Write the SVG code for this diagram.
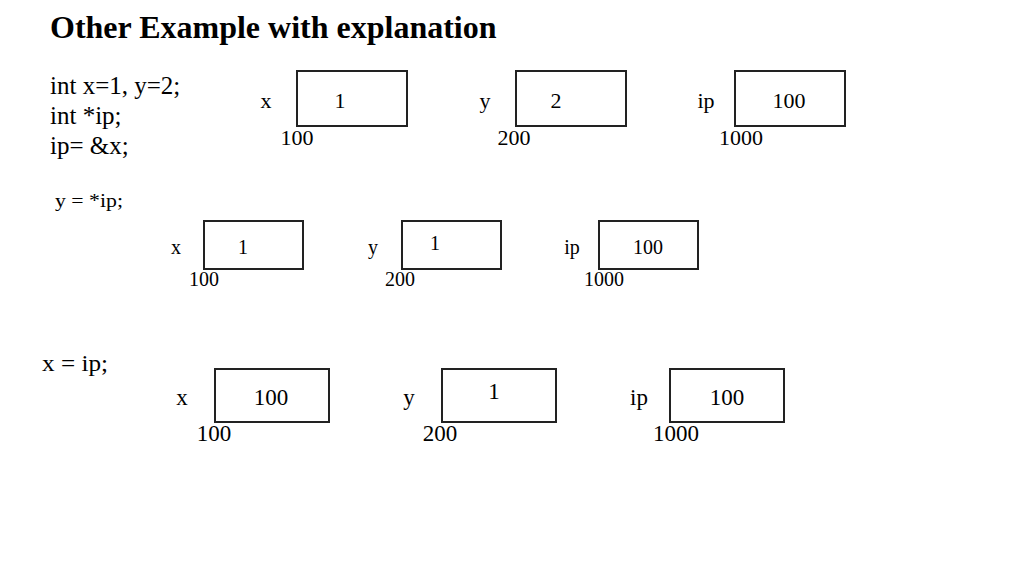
<svg xmlns="http://www.w3.org/2000/svg" width="1024" height="576" viewBox="0 0 1024 576">
<style>
.t{font-family:"Liberation Serif","Times New Roman",serif;fill:#000}
.title{font-size:32px;font-weight:bold}
.code{font-size:25px}
.lbl{text-anchor:middle}
.r1{font-size:22px}
.r2{font-size:20px}
.r3{font-size:23px}
.box{fill:#fff;stroke:#222;stroke-width:2}
</style>
<rect width="1024" height="576" fill="#fff"/>
<text class="t title" x="50" y="38">Other Example with explanation</text>
<g id="code">
<text class="t code" x="50" y="94">int x=1, y=2;</text>
<text class="t code" x="50" y="124">int *ip;</text>
<text class="t code" x="50" y="154">ip= &amp;x;</text>
<text class="t" x="55" y="207" style="font-size:19px" textLength="68" lengthAdjust="spacingAndGlyphs">y = *ip;</text>
<text class="t" x="42" y="371" style="font-size:23px" textLength="66" lengthAdjust="spacingAndGlyphs">x = ip;</text>
</g>
<g id="row1">
<g id="r1x"><rect class="box" x="297" y="71" width="110" height="55"/><text class="t lbl r1" x="266" y="108">x</text><text class="t lbl r1" x="340" y="108">1</text><text class="t lbl r1" x="297" y="145">100</text></g>
<g id="r1y"><rect class="box" x="516" y="71" width="110" height="55"/><text class="t lbl r1" x="485" y="108">y</text><text class="t lbl r1" x="556" y="108">2</text><text class="t lbl r1" x="514" y="145">200</text></g>
<g id="r1ip"><rect class="box" x="735" y="71" width="110" height="55"/><text class="t lbl r1" x="706" y="108">ip</text><text class="t lbl r1" x="789" y="108">100</text><text class="t lbl r1" x="741" y="145">1000</text></g>
</g>
<g id="row2">
<g id="r2x"><rect class="box" x="204" y="221" width="99" height="48"/><text class="t lbl r2" x="176" y="254">x</text><text class="t lbl r2" x="243" y="254">1</text><text class="t lbl r2" x="204" y="286">100</text></g>
<g id="r2y"><rect class="box" x="402" y="221" width="99" height="48"/><text class="t lbl r2" x="373" y="254">y</text><text class="t lbl r2" x="435" y="250">1</text><text class="t lbl r2" x="400" y="286">200</text></g>
<g id="r2ip"><rect class="box" x="599" y="221" width="99" height="48"/><text class="t lbl r2" x="572" y="254">ip</text><text class="t lbl r2" x="648" y="254">100</text><text class="t lbl r2" x="604" y="286">1000</text></g>
</g>
<g id="row3">
<g id="r3x"><rect class="box" x="215" y="369" width="114" height="53"/><text class="t lbl r3" x="182" y="405">x</text><text class="t lbl r3" x="271" y="405">100</text><text class="t lbl r3" x="214" y="441">100</text></g>
<g id="r3y"><rect class="box" x="442" y="369" width="114" height="53"/><text class="t lbl r3" x="409" y="405">y</text><text class="t lbl r3" x="494" y="399">1</text><text class="t lbl r3" x="440" y="441">200</text></g>
<g id="r3ip"><rect class="box" x="670" y="369" width="114" height="53"/><text class="t lbl r3" x="639" y="405">ip</text><text class="t lbl r3" x="727" y="405">100</text><text class="t lbl r3" x="676" y="441">1000</text></g>
</g>
<g id="connectors"></g>
</svg>
